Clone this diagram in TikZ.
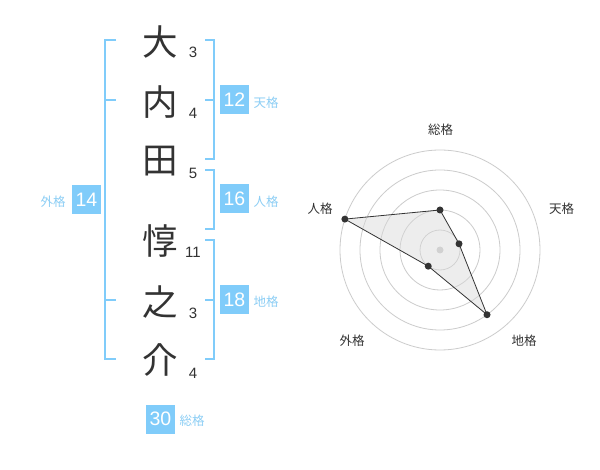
\documentclass[tikz,border=0pt]{standalone}
\usepackage{fontspec}
\setmainfont{Liberation Sans}
\newfontfamily\cjk{Noto Sans CJK JP}
\definecolor{bl}{RGB}{128,204,250}
\definecolor{bltxt}{RGB}{140,206,245}
\definecolor{dk}{RGB}{51,51,51}
\definecolor{ring}{RGB}{204,204,204}
\tikzset{
  brk/.style={draw=bl, line width=2pt},
  kanji/.style={font=\cjk\fontsize{35.5}{36}\selectfont, text=dk, inner sep=0pt},
  strk/.style={font=\fontsize{15}{15}\selectfont, text=dk, inner sep=0pt},
  valbox/.style={fill=bl, text=white, minimum width=29pt, minimum height=29pt, inner sep=0pt, font=\fontsize{19.5}{20}\selectfont},
  kaku/.style={text=bltxt, font=\cjk\fontsize{12.5}{13}\selectfont, inner sep=0pt},
  rlab/.style={text=dk, font=\cjk\fontsize{12.5}{13}\selectfont, inner sep=0pt},
  dot/.style={circle, fill=dk, inner sep=0pt, minimum size=7pt},
}
\begin{document}
\begin{tikzpicture}[x=1pt,y=-1pt]
\path[use as bounding box, fill=white] (0,0) rectangle (600,470);
% name characters
\node[kanji] (c1) at (160,42) {大};
\node[kanji] (c2) at (160,102) {内};
\node[kanji] (c3) at (160,161) {田};
\node[kanji] (c4) at (160,241) {惇};
\node[kanji] (c5) at (160,302) {之};
\node[kanji] (c6) at (160,360) {介};
\node[strk] (n1) at (193,52) {3};
\node[strk] (n2) at (193,113) {4};
\node[strk] (n3) at (193,173) {5};
\node[strk] (n4) at (193,252) {11};
\node[strk] (n5) at (193,313) {3};
\node[strk] (n6) at (193,373) {4};
% brackets
\draw[brk] (116,40) -- (105,40) -- (105,359) -- (116,359);
\draw[brk] (105,100) -- (116,100);
\draw[brk] (105,300) -- (116,300);
\draw[brk] (205,40) -- (214,40) -- (214,159) -- (205,159);
\draw[brk] (205,100) -- (214,100);
\draw[brk] (205,170) -- (214,170) -- (214,229) -- (205,229);
\draw[brk] (205,240) -- (214,240) -- (214,359) -- (205,359);
\draw[brk] (205,300) -- (214,300);
% value boxes
\node[valbox] (gai) at (86.5,200) {14};
\node[kaku] (gail) at (53,202) {外格};
\node[valbox] (ten) at (234.5,100) {12};
\node[kaku] (tenl) at (266,103) {天格};
\node[valbox] (jin) at (234.5,199) {16};
\node[kaku] (jinl) at (266,202) {人格};
\node[valbox] (chi) at (234.5,300) {18};
\node[kaku] (chil) at (266,302) {地格};
\node[valbox] (sou) at (160.5,419) {30};
\node[kaku] (soul) at (192,421) {総格};
% radar chart
\begin{scope}[shift={(440,250)}]
\foreach \r in {20,40,60,80,100} \draw[ring, line width=0.8pt] (0,0) circle[radius=\r];
\fill[ring] (0,0) circle[radius=3.5];
\coordinate (p1) at (-90:40);
\coordinate (p2) at (-18:20);
\coordinate (p3) at (54:80);
\coordinate (p4) at (126:20);
\coordinate (p5) at (-162:100);
\filldraw[fill=black!15, fill opacity=0.45, draw=dk, line width=0.8pt] (p1) -- (p2) -- (p3) -- (p4) -- (p5) -- cycle;
\foreach \p in {p1,p2,p3,p4,p5} \node[dot] at (\p) {};
\end{scope}
\node[rlab] (r1) at (440.5,130) {総格};
\node[rlab] (r2) at (561.5,208.5) {天格};
\node[rlab] (r3) at (524,341) {地格};
\node[rlab] (r4) at (352,341) {外格};
\node[rlab] (r5) at (320,208.5) {人格};
\end{tikzpicture}
\end{document}
